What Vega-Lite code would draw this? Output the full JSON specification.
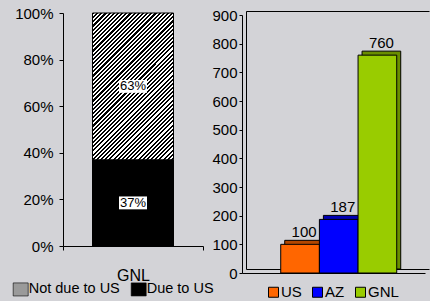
{
  "$schema": "https://vega.github.io/schema/vega-lite/v6.json",
  "background": "#d3d3d7",
  "padding": {"left": 12, "top": 3, "right": 0, "bottom": 0},
  "config": {
    "font": "Liberation Sans",
    "view": {"stroke": null},
    "axis": {"labelFont": "Liberation Sans", "labelColor": "#000", "domainColor": "#000", "tickColor": "#000", "grid": false},
    "legend": {"labelFont": "Liberation Sans", "labelColor": "#000", "padding": 0},
    "text": {"font": "Liberation Sans", "color": "#000"}
  },
  "spacing": 43,
  "bounds": "flush",
  "resolve": {"scale": {"fill": "independent", "x": "independent", "y": "independent"}, "legend": {"fill": "independent"}},
  "hconcat": [
    {
      "width": 140,
      "height": 235,
      "view": {"stroke": null},
      "data": {"values": [
        {"cat": "GNL", "part": "Due to US", "pct": 0.37, "label": "37%"},
        {"cat": "GNL", "part": "Not due to US", "pct": 0.63, "label": "63%"}
      ]},
      "transform": [
        {"stack": "pct", "groupby": ["cat"], "sort": [{"field": "part", "order": "ascending"}], "as": ["y0", "y1"]},
        {"calculate": "(datum.y0 + datum.y1) / 2", "as": "mid"}
      ],
      "encoding": {
        "x": {"field": "cat", "type": "nominal", "title": null,
          "scale": {"paddingInner": 0, "paddingOuter": 0},
          "axis": {"labelAngle": 0, "labelFontSize": 16, "tickBand": "extent", "tickSize": 4, "labelPadding": 17}}
      },
      "layer": [
        {
          "mark": {"type": "bar", "width": 81, "stroke": "#000", "strokeWidth": 1},
          "encoding": {
            "y": {"field": "y1", "type": "quantitative", "title": null,
              "scale": {"domain": [0, 1], "range": [235, 2], "nice": false},
              "axis": {"values": [0, 0.2, 0.4, 0.6, 0.8, 1], "format": ".0%", "labelFontSize": 15, "tickSize": 4, "labelPadding": 6, "grid": false}},
            "y2": {"field": "y0"},
            "fill": {
              "condition": {"test": "datum.part === 'Not due to US'", "value": {"gradient": "linear", "x1": 0, "y1": 0, "x2": 1, "y2": 1.812, "stops": [
{"offset":0,"color":"#000"},{"offset":0.006,"color":"#000"},{"offset":0.006,"color":"#fff"},{"offset":0.012,"color":"#fff"},
{"offset":0.012,"color":"#000"},{"offset":0.018,"color":"#000"},{"offset":0.018,"color":"#fff"},{"offset":0.024,"color":"#fff"},
{"offset":0.024,"color":"#000"},{"offset":0.03,"color":"#000"},{"offset":0.03,"color":"#fff"},{"offset":0.036,"color":"#fff"},
{"offset":0.036,"color":"#000"},{"offset":0.042,"color":"#000"},{"offset":0.042,"color":"#fff"},{"offset":0.048,"color":"#fff"},
{"offset":0.048,"color":"#000"},{"offset":0.054,"color":"#000"},{"offset":0.054,"color":"#fff"},{"offset":0.06,"color":"#fff"},
{"offset":0.06,"color":"#000"},{"offset":0.066,"color":"#000"},{"offset":0.066,"color":"#fff"},{"offset":0.072,"color":"#fff"},
{"offset":0.072,"color":"#000"},{"offset":0.078,"color":"#000"},{"offset":0.078,"color":"#fff"},{"offset":0.084,"color":"#fff"},
{"offset":0.084,"color":"#000"},{"offset":0.09,"color":"#000"},{"offset":0.09,"color":"#fff"},{"offset":0.096,"color":"#fff"},
{"offset":0.096,"color":"#000"},{"offset":0.102,"color":"#000"},{"offset":0.102,"color":"#fff"},{"offset":0.108,"color":"#fff"},
{"offset":0.108,"color":"#000"},{"offset":0.114,"color":"#000"},{"offset":0.114,"color":"#fff"},{"offset":0.12,"color":"#fff"},
{"offset":0.12,"color":"#000"},{"offset":0.126,"color":"#000"},{"offset":0.126,"color":"#fff"},{"offset":0.132,"color":"#fff"},
{"offset":0.132,"color":"#000"},{"offset":0.138,"color":"#000"},{"offset":0.138,"color":"#fff"},{"offset":0.144,"color":"#fff"},
{"offset":0.144,"color":"#000"},{"offset":0.15,"color":"#000"},{"offset":0.15,"color":"#fff"},{"offset":0.156,"color":"#fff"},
{"offset":0.156,"color":"#000"},{"offset":0.162,"color":"#000"},{"offset":0.162,"color":"#fff"},{"offset":0.168,"color":"#fff"},
{"offset":0.168,"color":"#000"},{"offset":0.174,"color":"#000"},{"offset":0.174,"color":"#fff"},{"offset":0.18,"color":"#fff"},
{"offset":0.18,"color":"#000"},{"offset":0.186,"color":"#000"},{"offset":0.186,"color":"#fff"},{"offset":0.192,"color":"#fff"},
{"offset":0.192,"color":"#000"},{"offset":0.198,"color":"#000"},{"offset":0.198,"color":"#fff"},{"offset":0.204,"color":"#fff"},
{"offset":0.204,"color":"#000"},{"offset":0.21,"color":"#000"},{"offset":0.21,"color":"#fff"},{"offset":0.216,"color":"#fff"},
{"offset":0.216,"color":"#000"},{"offset":0.222,"color":"#000"},{"offset":0.222,"color":"#fff"},{"offset":0.228,"color":"#fff"},
{"offset":0.228,"color":"#000"},{"offset":0.234,"color":"#000"},{"offset":0.234,"color":"#fff"},{"offset":0.24,"color":"#fff"},
{"offset":0.24,"color":"#000"},{"offset":0.246,"color":"#000"},{"offset":0.246,"color":"#fff"},{"offset":0.252,"color":"#fff"},
{"offset":0.252,"color":"#000"},{"offset":0.258,"color":"#000"},{"offset":0.258,"color":"#fff"},{"offset":0.264,"color":"#fff"},
{"offset":0.264,"color":"#000"},{"offset":0.27,"color":"#000"},{"offset":0.27,"color":"#fff"},{"offset":0.276,"color":"#fff"},
{"offset":0.276,"color":"#000"},{"offset":0.282,"color":"#000"},{"offset":0.282,"color":"#fff"},{"offset":0.288,"color":"#fff"},
{"offset":0.288,"color":"#000"},{"offset":0.294,"color":"#000"},{"offset":0.294,"color":"#fff"},{"offset":0.3,"color":"#fff"},
{"offset":0.3,"color":"#000"},{"offset":0.306,"color":"#000"},{"offset":0.306,"color":"#fff"},{"offset":0.312,"color":"#fff"},
{"offset":0.312,"color":"#000"},{"offset":0.318,"color":"#000"},{"offset":0.318,"color":"#fff"},{"offset":0.324,"color":"#fff"},
{"offset":0.324,"color":"#000"},{"offset":0.33,"color":"#000"},{"offset":0.33,"color":"#fff"},{"offset":0.336,"color":"#fff"},
{"offset":0.336,"color":"#000"},{"offset":0.342,"color":"#000"},{"offset":0.342,"color":"#fff"},{"offset":0.348,"color":"#fff"},
{"offset":0.348,"color":"#000"},{"offset":0.354,"color":"#000"},{"offset":0.354,"color":"#fff"},{"offset":0.36,"color":"#fff"},
{"offset":0.36,"color":"#000"},{"offset":0.366,"color":"#000"},{"offset":0.366,"color":"#fff"},{"offset":0.372,"color":"#fff"},
{"offset":0.372,"color":"#000"},{"offset":0.378,"color":"#000"},{"offset":0.378,"color":"#fff"},{"offset":0.384,"color":"#fff"},
{"offset":0.384,"color":"#000"},{"offset":0.39,"color":"#000"},{"offset":0.39,"color":"#fff"},{"offset":0.396,"color":"#fff"},
{"offset":0.396,"color":"#000"},{"offset":0.402,"color":"#000"},{"offset":0.402,"color":"#fff"},{"offset":0.408,"color":"#fff"},
{"offset":0.408,"color":"#000"},{"offset":0.414,"color":"#000"},{"offset":0.414,"color":"#fff"},{"offset":0.42,"color":"#fff"},
{"offset":0.42,"color":"#000"},{"offset":0.426,"color":"#000"},{"offset":0.426,"color":"#fff"},{"offset":0.432,"color":"#fff"},
{"offset":0.432,"color":"#000"},{"offset":0.438,"color":"#000"},{"offset":0.438,"color":"#fff"},{"offset":0.444,"color":"#fff"},
{"offset":0.444,"color":"#000"},{"offset":0.45,"color":"#000"},{"offset":0.45,"color":"#fff"},{"offset":0.456,"color":"#fff"},
{"offset":0.456,"color":"#000"},{"offset":0.462,"color":"#000"},{"offset":0.462,"color":"#fff"},{"offset":0.468,"color":"#fff"},
{"offset":0.468,"color":"#000"},{"offset":0.474,"color":"#000"},{"offset":0.474,"color":"#fff"},{"offset":0.48,"color":"#fff"},
{"offset":0.48,"color":"#000"},{"offset":0.486,"color":"#000"},{"offset":0.486,"color":"#fff"},{"offset":0.492,"color":"#fff"},
{"offset":0.492,"color":"#000"},{"offset":0.498,"color":"#000"},{"offset":0.498,"color":"#fff"},{"offset":0.504,"color":"#fff"},
{"offset":0.504,"color":"#000"},{"offset":0.51,"color":"#000"},{"offset":0.51,"color":"#fff"},{"offset":0.516,"color":"#fff"},
{"offset":0.516,"color":"#000"},{"offset":0.522,"color":"#000"},{"offset":0.522,"color":"#fff"},{"offset":0.528,"color":"#fff"},
{"offset":0.528,"color":"#000"},{"offset":0.534,"color":"#000"},{"offset":0.534,"color":"#fff"},{"offset":0.54,"color":"#fff"},
{"offset":0.54,"color":"#000"},{"offset":0.546,"color":"#000"},{"offset":0.546,"color":"#fff"},{"offset":0.552,"color":"#fff"},
{"offset":0.552,"color":"#000"},{"offset":0.558,"color":"#000"},{"offset":0.558,"color":"#fff"},{"offset":0.564,"color":"#fff"},
{"offset":0.564,"color":"#000"},{"offset":0.57,"color":"#000"},{"offset":0.57,"color":"#fff"},{"offset":0.576,"color":"#fff"},
{"offset":0.576,"color":"#000"},{"offset":0.582,"color":"#000"},{"offset":0.582,"color":"#fff"},{"offset":0.588,"color":"#fff"},
{"offset":0.588,"color":"#000"},{"offset":0.594,"color":"#000"},{"offset":0.594,"color":"#fff"},{"offset":0.6,"color":"#fff"},
{"offset":0.6,"color":"#000"},{"offset":0.606,"color":"#000"},{"offset":0.606,"color":"#fff"},{"offset":0.612,"color":"#fff"},
{"offset":0.612,"color":"#000"},{"offset":0.618,"color":"#000"},{"offset":0.618,"color":"#fff"},{"offset":0.624,"color":"#fff"},
{"offset":0.624,"color":"#000"},{"offset":0.63,"color":"#000"},{"offset":0.63,"color":"#fff"},{"offset":0.636,"color":"#fff"},
{"offset":0.636,"color":"#000"},{"offset":0.642,"color":"#000"},{"offset":0.642,"color":"#fff"},{"offset":0.648,"color":"#fff"},
{"offset":0.648,"color":"#000"},{"offset":0.654,"color":"#000"},{"offset":0.654,"color":"#fff"},{"offset":0.66,"color":"#fff"}
              ]}},
              "value": "#000"
            }
          }
        },
        {
          "mark": {"type": "point", "shape": "M-1,-0.87H1V0.87H-1Z", "size": 225, "filled": true, "opacity": 0},
          "encoding": {
            "y": {"field": "mid", "type": "quantitative", "title": null},
            "fill": {"field": "part", "type": "nominal",
              "scale": {"domain": ["Not due to US", "Due to US"], "range": ["#9a9a9a", "#000"]},
              "legend": {"orient": "none", "legendX": -50.3, "legendY": 270.3, "direction": "horizontal", "columns": 2,
                "title": null, "symbolType": "M-1,-0.87H1V0.87H-1Z", "symbolSize": 225, "labelFontSize": 14.5,
                "labelOffset": 0, "columnPadding": 9, "symbolOpacity": 1,
                "symbolStrokeColor": "#000", "symbolStrokeWidth": 0.6}
            }
          }
        },
        {
          "mark": {"type": "point", "shape": "M-1,-0.46H1V0.46H-1Z", "size": 784, "filled": true, "opacity": 1, "strokeWidth": 0, "fill": "#fff"},
          "encoding": {
            "y": {"field": "mid", "type": "quantitative", "title": null}
          }
        },
        {
          "mark": {"type": "text", "fontSize": 13, "baseline": "middle", "color": "#000"},
          "encoding": {
            "y": {"field": "mid", "type": "quantitative", "title": null},
            "text": {"field": "label", "type": "nominal"}
          }
        }
      ]
    },
    {
      "width": 183,
      "height": 258,
      "view": {"stroke": "#000", "strokeWidth": 1, "strokeDash": [183, 258, 441]},
      "data": {"values": [
        {"cat": "US", "val": 100},
        {"cat": "AZ", "val": 187},
        {"cat": "GNL", "val": 760}
      ]},
      "encoding": {
        "x": {"field": "cat", "type": "nominal", "title": null,
          "scale": {"domain": ["US", "AZ", "GNL"], "paddingInner": 0, "paddingOuter": 0.8665, "align": 0.578},
          "axis": {"labels": false, "ticks": false, "offset": 8, "translate": -3.5}},
        "y": {"field": "val", "type": "quantitative", "title": null,
          "scale": {"domain": [0, 900], "nice": false},
          "axis": {"values": [0, 100, 200, 300, 400, 500, 600, 700, 800, 900], "labelFontSize": 15, "tickSize": 3, "labelPadding": 2, "offset": 8, "translate": 4.5, "grid": false}}
      },
      "layer": [
        {
          "mark": {"type": "bar", "stroke": "#000", "strokeWidth": 1},
          "encoding": {
            "fill": {"field": "cat", "type": "nominal",
              "scale": {"domain": ["US", "AZ", "GNL"], "range": ["#ff6600", "#0000ff", "#99cc00"]},
              "legend": {"orient": "none", "legendX": 20, "legendY": 273.5, "direction": "horizontal", "columns": 3,
                "title": null, "symbolType": "square", "symbolSize": 100, "labelFontSize": 15, "labelOffset": 0, "columnPadding": 8,
                "symbolStrokeColor": "#333", "symbolStrokeWidth": 1, "symbolOpacity": 1}
            }
          }
        },
        {
          "mark": {"type": "bar", "fill": "#000", "opacity": 0.3, "strokeWidth": 0},
          "encoding": {}
        },
        {
          "mark": {"type": "bar", "stroke": "#000", "strokeWidth": 1, "xOffset": -4, "x2Offset": -4, "yOffset": 4, "y2Offset": 4},
          "encoding": {"fill": {"field": "cat", "type": "nominal"}}
        },
        {
          "mark": {"type": "text", "fontSize": 15, "baseline": "alphabetic", "dy": -3, "color": "#000"},
          "encoding": {"text": {"field": "val", "type": "quantitative"}}
        }
      ]
    }
  ]
}
